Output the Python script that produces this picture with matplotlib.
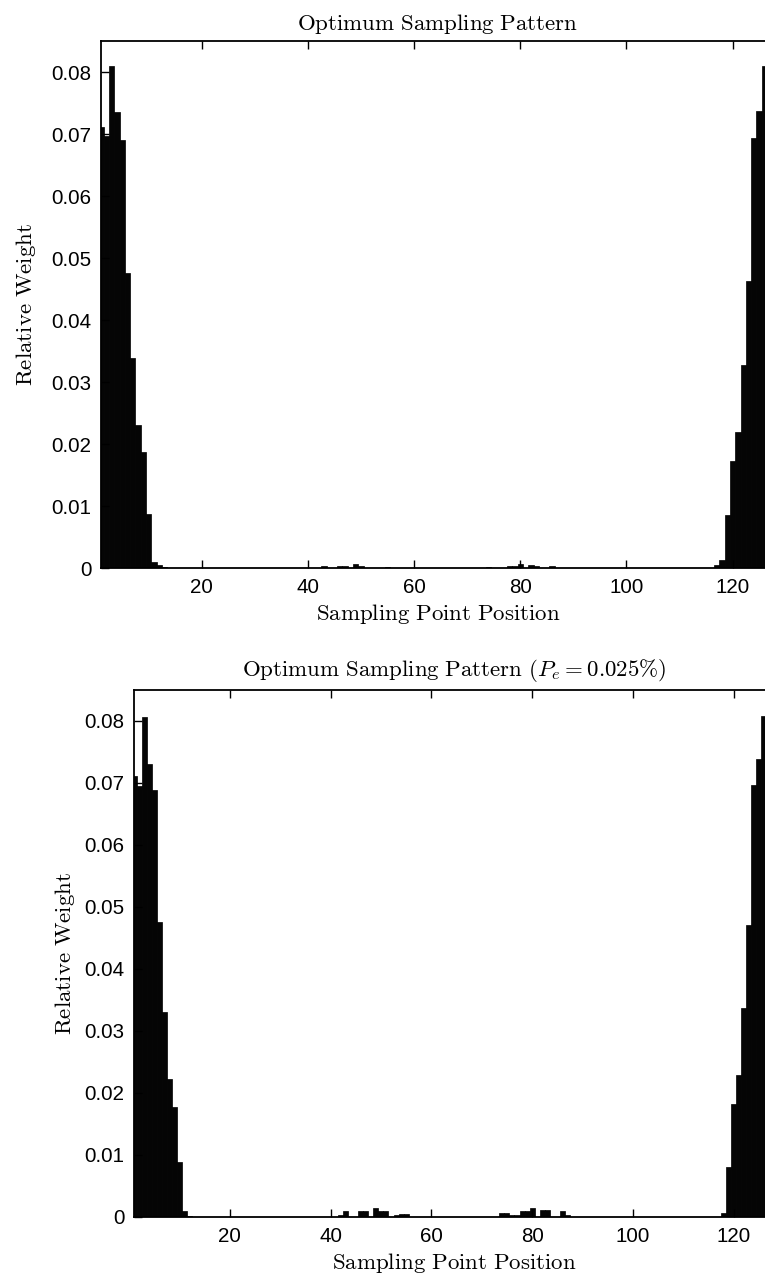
import numpy as np
import matplotlib.pyplot as plt

plt.rcParams['mathtext.fontset'] = 'cm'
plt.rcParams['font.family'] = ['Liberation Sans', 'DejaVu Sans']

n_points = 128
positions = np.arange(1, n_points + 1)

# top chart: weights at the ends
top_left = [0.0712, 0.0697, 0.0809, 0.0735, 0.0691, 0.0476, 0.0338,
            0.0230, 0.0187, 0.0087, 0.0010, 0.0005, 0.0002]
top_right = [0.0712, 0.0697, 0.0810, 0.0737, 0.0693, 0.0463, 0.0328,
             0.0219, 0.0172, 0.0085, 0.0013, 0.0005]  # from 128 downwards
top_mid_pos = [43, 46, 47, 49, 50, 55, 74, 78, 79, 80, 82, 83, 86]
top_mid_val = [0.0003, 0.0004, 0.0003, 0.0007, 0.0004, 0.0002, 0.0001,
               0.0003, 0.0004, 0.0007, 0.0005, 0.0004, 0.0003]

# bottom chart (Pe = 0.025%)
bot_left = [0.0712, 0.0695, 0.0806, 0.0731, 0.0688, 0.0476, 0.0330,
            0.0223, 0.0178, 0.0088, 0.0009, 0.0002]
bot_right = [0.0712, 0.0697, 0.0808, 0.0738, 0.0697, 0.0471, 0.0337,
             0.0229, 0.0183, 0.0081, 0.0006]  # from 128 downwards
bot_mid_pos = [42, 43, 46, 47, 49, 50, 51, 53, 54, 55,
               74, 75, 76, 77, 78, 79, 80, 82, 83, 86, 87]
bot_mid_val = [0.0004, 0.0009, 0.0010, 0.0010, 0.0014, 0.0010, 0.0010,
               0.0003, 0.0005, 0.0005,
               0.0006, 0.0006, 0.0003, 0.0003, 0.0009, 0.0009, 0.0015,
               0.0011, 0.0011, 0.0010, 0.0004]

y_ticks = [0, 0.01, 0.02, 0.03, 0.04, 0.05, 0.06, 0.07, 0.08]
y_ticklabels = ['0', '0.01', '0.02', '0.03', '0.04', '0.05', '0.06', '0.07', '0.08']
x_ticks = [20, 40, 60, 80, 100, 120]


def build_weights(left, right, mid_pos, mid_val):
    w = np.zeros(n_points)
    w[:len(left)] = left
    w[n_points - len(right):] = right[::-1]
    w[np.array(mid_pos) - 1] = mid_val
    return w


def draw(ax, weights, title, title_pad):
    ax.bar(positions, weights, width=1.0, color='#050505',
           edgecolor='#000000', linewidth=0.5)
    ax.set_xlim(1, n_points)
    ax.set_ylim(0, 0.085)
    ax.set_xticks(x_ticks)
    ax.set_yticks(y_ticks)
    ax.set_yticklabels(y_ticklabels)
    ax.tick_params(direction='in', length=6, width=1.0, labelsize=14.8,
                   top=True, right=True, pad=7)
    for s in ax.spines.values():
        s.set_linewidth(1.3)
    ax.set_title(title, fontsize=16.5, pad=title_pad)
    ax.set_xlabel(r'$\mathrm{Sampling\ Point\ Position}$', fontsize=16.5,
                  labelpad=4)
    ax.set_ylabel(r'$\mathrm{Relative\ Weight}$', fontsize=16.5)


fig = plt.figure(figsize=(7.65, 12.84), dpi=100)
W, H = 765.0, 1284.0

ax1 = fig.add_axes([101 / W, (H - 568) / H, 674 / W, 527 / H])
draw(ax1, build_weights(top_left, top_right, top_mid_pos, top_mid_val),
     r'$\mathrm{Optimum\ Sampling\ Pattern}$', 8)
ax1.yaxis.set_label_coords(-0.094, 0.5)

ax2 = fig.add_axes([134 / W, (H - 1217) / H, 640 / W, 527 / H])
draw(ax2, build_weights(bot_left, bot_right, bot_mid_pos, bot_mid_val),
     r'$\mathrm{Optimum\ Sampling\ Pattern\ (}P_e = 0.025\%\mathrm{)}$', 10)
ax2.yaxis.set_label_coords(-0.089, 0.5)

fig.savefig('out.png', dpi=100)
